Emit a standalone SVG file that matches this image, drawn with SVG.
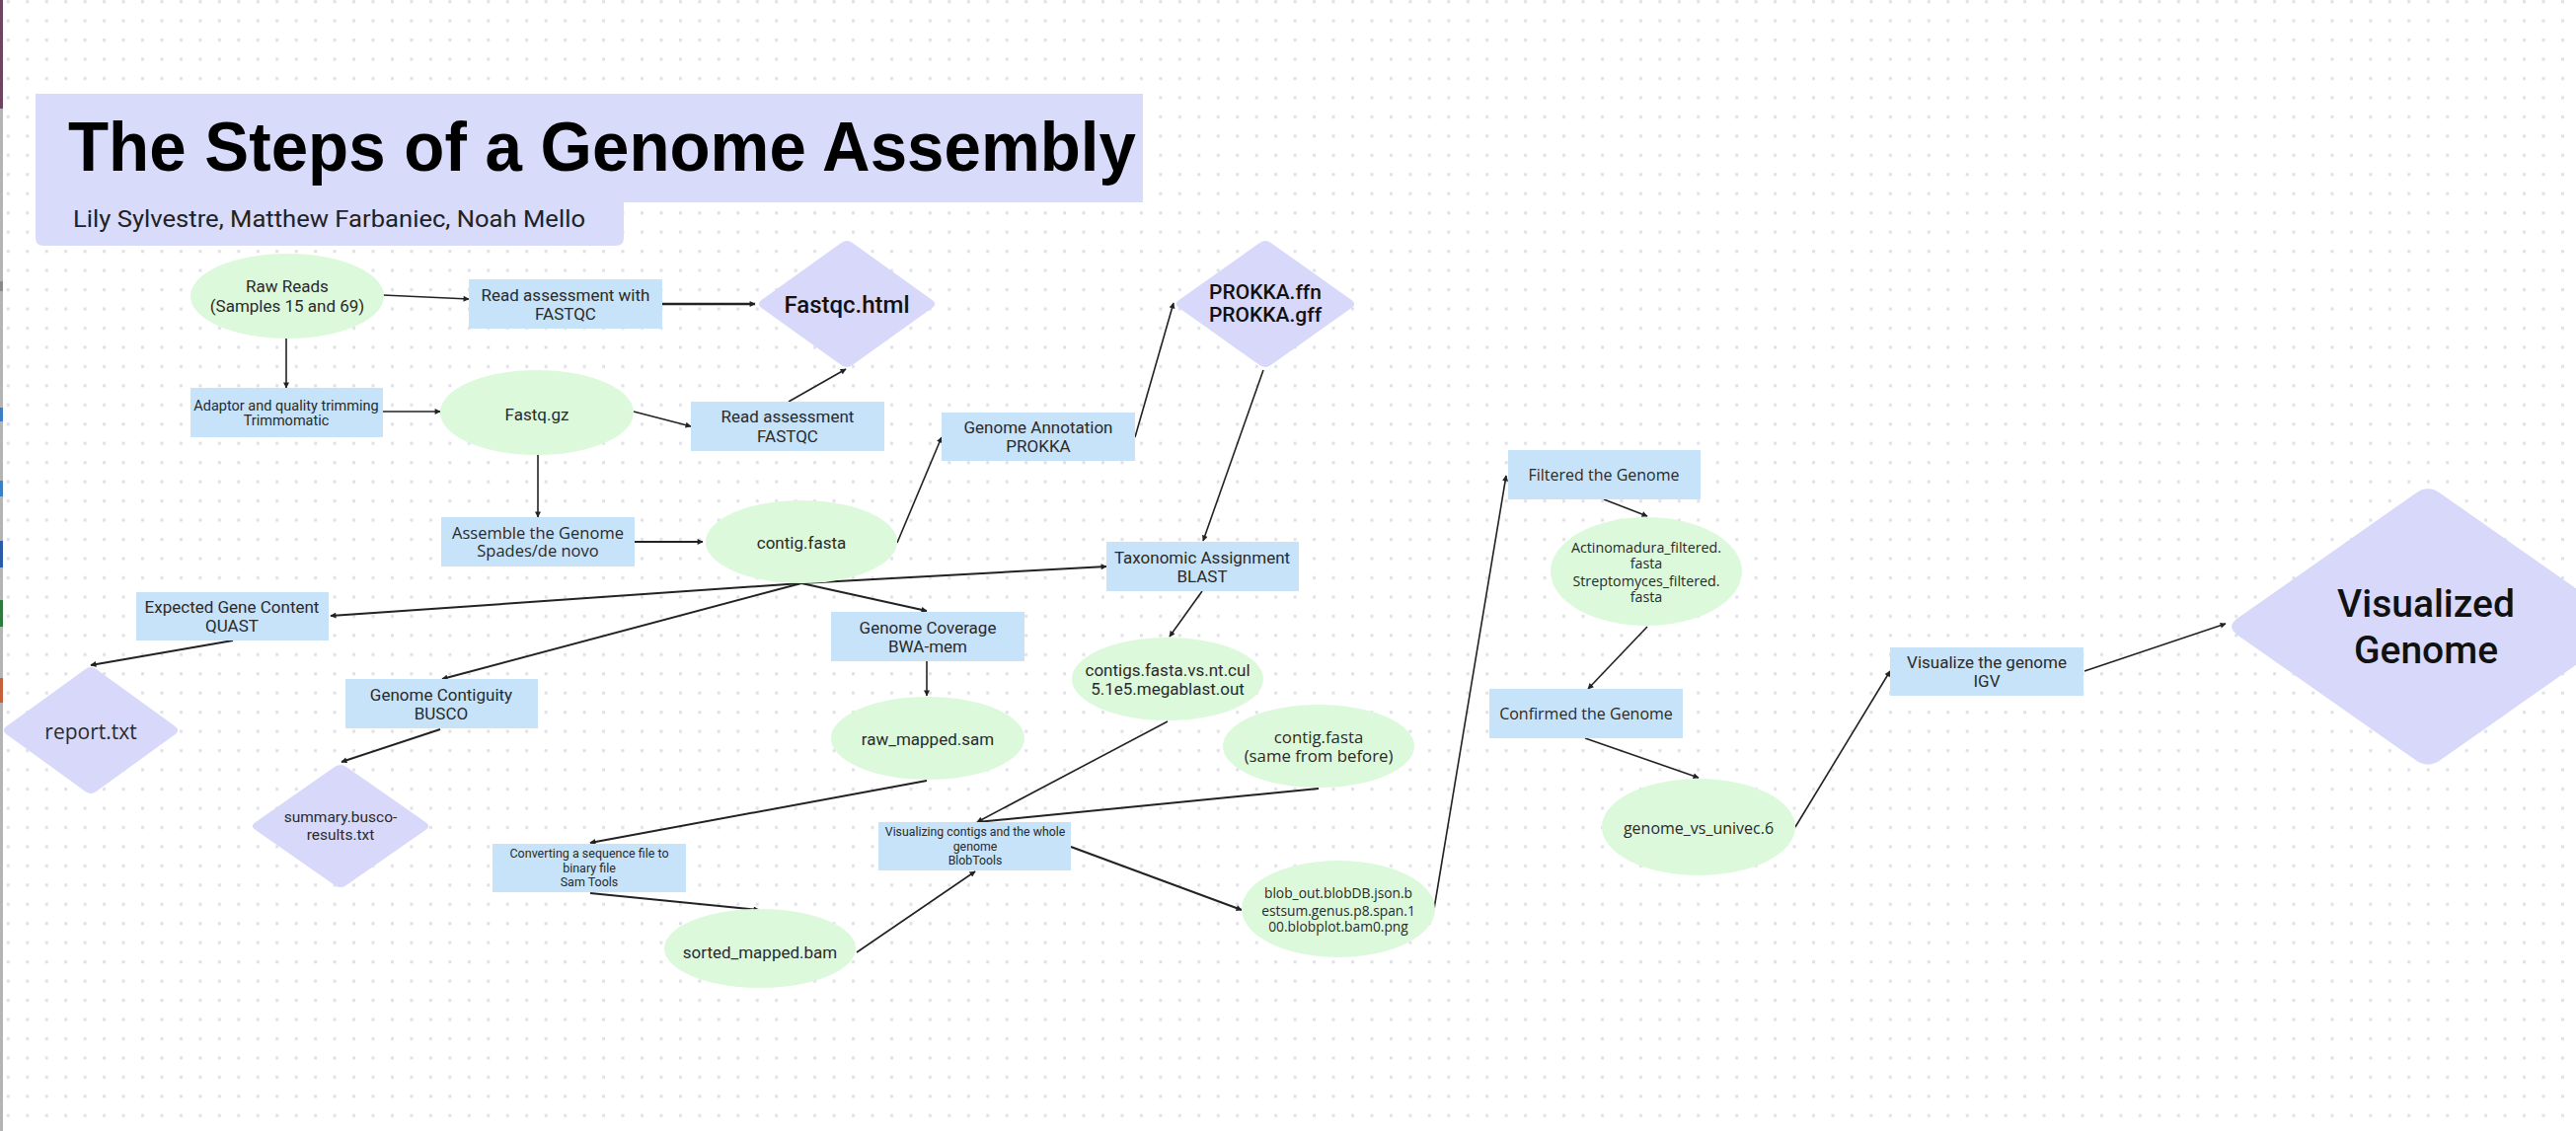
<svg xmlns="http://www.w3.org/2000/svg" width="2610" height="1146" viewBox="0 0 2610 1146">
<defs>
<pattern id="dots" x="0" y="0" width="19.46" height="19.46" patternUnits="userSpaceOnUse">
<rect x="6.8" y="0.2" width="3" height="3" fill="#dfdfe8"/>
</pattern>
<path id="dia" d="M0.06,-0.94 L0.94,-0.06 Q1,0 0.94,0.06 L0.06,0.94 Q0,1 -0.06,0.94 L-0.94,0.06 Q-1,0 -0.94,-0.06 L-0.06,-0.94 Q0,-1 0.06,-0.94 Z"/>
<marker id="ah" viewBox="0 0 10 10" refX="9" refY="5" markerWidth="7" markerHeight="6" markerUnits="userSpaceOnUse" orient="auto">
<path d="M0,0 L10,5 L0,10 Z" fill="#222"/>
</marker>
</defs>
<style>
.ell{fill:#dcf9dc}
.box{fill:#c6e3f9}
.dm{fill:#d8d9fa}
.t{font-family:Roboto,"Liberation Sans",sans-serif;font-size:17px;fill:#2a2a2a;text-anchor:middle}
.g{font-family:"Open Sans","Noto Sans",sans-serif;font-size:16px;fill:#2a2a2a;text-anchor:middle}
.b{font-family:Roboto,"Liberation Sans",sans-serif;font-weight:500;fill:#111;text-anchor:middle}
.c line{stroke:#222;stroke-width:1.6;marker-end:url(#ah)}
</style>
<rect width="2610" height="1146" fill="#ffffff"/>
<rect width="2610" height="1146" fill="url(#dots)"/>
<g id="edge-strip">
<rect x="0" y="0" width="3" height="1146" fill="#b4b4b4"/>
<rect x="0" y="0" width="3" height="110" fill="#6e4463"/>
<rect x="0" y="285" width="3" height="10" fill="#8a8a8a"/>
<rect x="0" y="413" width="3" height="14" fill="#3d7fc4"/>
<rect x="0" y="487" width="3" height="16" fill="#3d7fc4"/>
<rect x="0" y="548" width="3" height="27" fill="#2a5aa8"/>
<rect x="0" y="608" width="3" height="27" fill="#2f7a3e"/>
<rect x="0" y="687" width="3" height="25" fill="#c4603a"/>
</g>
<g id="title">
<path d="M36,95 H1158 V205 H632 V241 Q632,249 624,249 H44 Q36,249 36,241 Z" fill="#d9dbfb"/>
<text x="69" y="173" font-family="'Liberation Sans',Arial,sans-serif" font-weight="bold" font-size="70" fill="#000" textLength="1082" lengthAdjust="spacingAndGlyphs">The Steps of a Genome Assembly</text>
<text x="74" y="230" font-family="Roboto,'Liberation Sans',sans-serif" font-size="23" fill="#222" textLength="519" lengthAdjust="spacingAndGlyphs">Lily Sylvestre, Matthew Farbaniec, Noah Mello</text>
</g>
<g class="c" id="connectors">
<line x1="388" y1="299" x2="475" y2="303"/>
<line x1="671" y1="308" x2="765" y2="308" style="stroke-width:2.4"/>
<line x1="290" y1="342" x2="290" y2="393"/>
<line x1="388" y1="417" x2="446" y2="417"/>
<line x1="642" y1="417" x2="700" y2="432"/>
<line x1="799" y1="407" x2="857" y2="374"/>
<line x1="545" y1="460" x2="545" y2="524"/>
<line x1="643" y1="549" x2="712" y2="549" style="stroke-width:2"/>
<line x1="909" y1="550" x2="954" y2="443"/>
<line x1="1150" y1="443" x2="1189" y2="307"/>
<line x1="1280" y1="375" x2="1219" y2="548"/>
<line x1="812" y1="591" x2="1121" y2="574" style="stroke-width:2"/>
<line x1="812" y1="591" x2="335" y2="624" style="stroke-width:2"/>
<line x1="812" y1="591" x2="448" y2="688" style="stroke-width:2"/>
<line x1="812" y1="591" x2="939" y2="619" style="stroke-width:2"/>
<line x1="236" y1="649" x2="92" y2="674" style="stroke-width:2"/>
<line x1="446" y1="739" x2="346" y2="772" style="stroke-width:2"/>
<line x1="939" y1="670" x2="939" y2="705"/>
<line x1="939" y1="791" x2="598" y2="854" style="stroke-width:2"/>
<line x1="598" y1="905" x2="769" y2="922" style="stroke-width:2"/>
<line x1="868" y1="965" x2="988" y2="883"/>
<line x1="1218" y1="599" x2="1185" y2="645"/>
<line x1="1183" y1="731" x2="990" y2="833"/>
<line x1="1336" y1="799" x2="990" y2="833" style="stroke-width:2"/>
<line x1="1085" y1="858" x2="1258" y2="922" style="stroke-width:2"/>
<line x1="1453" y1="921" x2="1526" y2="482"/>
<line x1="1625" y1="506" x2="1669" y2="523"/>
<line x1="1669" y1="635" x2="1609" y2="698"/>
<line x1="1606" y1="748" x2="1721" y2="788"/>
<line x1="1819" y1="838" x2="1915" y2="680"/>
<line x1="2112" y1="680" x2="2255" y2="632"/>
</g>
<g id="raw-reads"><ellipse class="ell" cx="291" cy="300" rx="98" ry="43"/><text class="t" x="291" y="296">Raw Reads</text><text class="t" x="291" y="316">(Samples 15 and 69)</text></g>
<g id="read-assessment-1"><rect class="box" x="475" y="283" width="196" height="50"/><text class="t" x="573" y="305">Read assessment with</text><text class="t" x="573" y="324">FASTQC</text></g>
<g id="fastqc-html"><use href="#dia" class="dm" transform="translate(858,308) scale(92,66)"/><text class="b" x="858" y="317" font-size="24">Fastqc.html</text></g>
<g id="trimming"><rect class="box" x="193" y="393" width="195" height="50"/><text class="t" x="290" y="416" style="font-size:14.5px">Adaptor and quality trimming</text><text class="t" x="290" y="431" style="font-size:14.5px">Trimmomatic</text></g>
<g id="fastq-gz"><ellipse class="ell" cx="544" cy="418" rx="98" ry="43"/><text class="t" x="544" y="426">Fastq.gz</text></g>
<g id="read-assessment-2"><rect class="box" x="700" y="407" width="196" height="50"/><text class="t" x="798" y="428">Read assessment</text><text class="t" x="798" y="448">FASTQC</text></g>
<g id="assemble"><rect class="box" x="447" y="524" width="196" height="50"/><text class="g" x="545" y="546" style="font-size:16.5px">Assemble the Genome</text><text class="g" x="545" y="564" style="font-size:16.5px">Spades/de novo</text></g>
<g id="contig-fasta"><ellipse class="ell" cx="812" cy="549" rx="97" ry="42"/><text class="t" x="812" y="556">contig.fasta</text></g>
<g id="prokka"><rect class="box" x="954" y="418" width="196" height="49"/><text class="t" x="1052" y="439">Genome Annotation</text><text class="t" x="1052" y="458">PROKKA</text></g>
<g id="prokka-out"><use href="#dia" class="dm" transform="translate(1282,308) scale(93,66)"/><text class="b" x="1282" y="303" font-size="21">PROKKA.ffn</text><text class="b" x="1282" y="326" font-size="21">PROKKA.gff</text></g>
<g id="blast"><rect class="box" x="1121" y="549" width="195" height="50"/><text class="t" x="1218" y="571">Taxonomic Assignment</text><text class="t" x="1218" y="590">BLAST</text></g>
<g id="quast"><rect class="box" x="138" y="600" width="195" height="49"/><text class="t" x="235" y="621">Expected Gene Content</text><text class="t" x="235" y="640">QUAST</text></g>
<g id="report"><use href="#dia" class="dm" transform="translate(92,740) scale(91,66)"/><text class="g" x="92" y="749" style="font-size:21px">report.txt</text></g>
<g id="busco"><rect class="box" x="350" y="688" width="195" height="50"/><text class="t" x="447" y="710">Genome Contiguity</text><text class="t" x="447" y="729">BUSCO</text></g>
<g id="busco-out"><use href="#dia" class="dm" transform="translate(345,837) scale(92,64)"/><text class="t" x="345" y="833" style="font-size:15.5px">summary.busco-</text><text class="t" x="345" y="851" style="font-size:15.5px">results.txt</text></g>
<g id="bwa"><rect class="box" x="842" y="620" width="196" height="50"/><text class="t" x="940" y="642">Genome Coverage</text><text class="t" x="940" y="661">BWA-mem</text></g>
<g id="raw-mapped"><ellipse class="ell" cx="940" cy="748" rx="98" ry="42"/><text class="t" x="940" y="755">raw_mapped.sam</text></g>
<g id="samtools"><rect class="box" x="499" y="855" width="196" height="49"/><text class="t" x="597" y="869" style="font-size:12.5px">Converting a sequence file to</text><text class="t" x="597" y="884" style="font-size:12.5px">binary file</text><text class="t" x="597" y="898" style="font-size:12.5px">Sam Tools</text></g>
<g id="sorted-mapped"><ellipse class="ell" cx="770" cy="961" rx="97" ry="40"/><text class="t" x="770" y="971">sorted_mapped.bam</text></g>
<g id="blobtools"><rect class="box" x="890" y="833" width="195" height="49"/><text class="t" x="988" y="847" style="font-size:12.3px">Visualizing contigs and the whole</text><text class="t" x="988" y="862" style="font-size:12.3px">genome</text><text class="t" x="988" y="876" style="font-size:12.3px">BlobTools</text></g>
<g id="megablast"><ellipse class="ell" cx="1183" cy="688" rx="97" ry="42"/><text class="t" x="1183" y="685">contigs.fasta.vs.nt.cul</text><text class="t" x="1183" y="704">5.1e5.megablast.out</text></g>
<g id="contig-fasta-2"><ellipse class="ell" cx="1336" cy="756" rx="97" ry="42"/><text class="g" x="1336" y="753" style="font-size:16.8px">contig.fasta</text><text class="g" x="1336" y="772" style="font-size:16.8px">(same from before)</text></g>
<g id="blob-out"><ellipse class="ell" cx="1356" cy="921" rx="98" ry="49"/><text class="g" x="1356" y="910" style="font-size:13.8px">blob_out.blobDB.json.b</text><text class="g" x="1356" y="928" style="font-size:13.8px">estsum.genus.p8.span.1</text><text class="g" x="1356" y="944" style="font-size:13.8px">00.blobplot.bam0.png</text></g>
<g id="filtered"><rect class="box" x="1528" y="456" width="195" height="50"/><text class="g" x="1625" y="487">Filtered the Genome</text></g>
<g id="filtered-fasta"><ellipse class="ell" cx="1668" cy="579" rx="97" ry="55"/><text class="g" x="1668" y="560" style="font-size:14.3px">Actinomadura_filtered.</text><text class="g" x="1668" y="576" style="font-size:14.3px">fasta</text><text class="g" x="1668" y="594" style="font-size:14.3px">Streptomyces_filtered.</text><text class="g" x="1668" y="610" style="font-size:14.3px">fasta</text></g>
<g id="confirmed"><rect class="box" x="1509" y="698" width="196" height="50"/><text class="g" x="1607" y="729">Confirmed the Genome</text></g>
<g id="univec"><ellipse class="ell" cx="1721" cy="838" rx="98" ry="49"/><text class="g" x="1721" y="845">genome_vs_univec.6</text></g>
<g id="igv"><rect class="box" x="1915" y="656" width="196" height="49"/><text class="t" x="2013" y="677">Visualize the genome</text><text class="t" x="2013" y="696">IGV</text></g>
<g id="visualized-genome"><use href="#dia" class="dm" transform="translate(2460,635) scale(205,144)"/><text class="b" x="2458" y="625" font-size="39">Visualized</text><text class="b" x="2458" y="672" font-size="39">Genome</text></g>
</svg>
